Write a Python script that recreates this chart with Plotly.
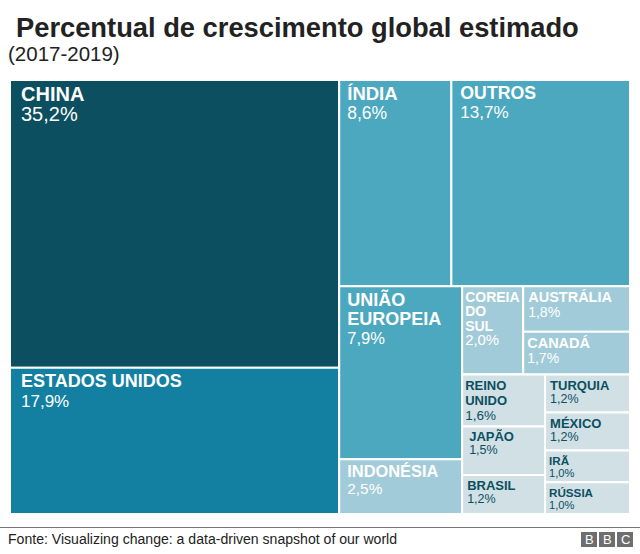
import plotly.graph_objects as go

# leaf tiles, grouped the way the original is nested
ids = ["china", "eua", "india", "outros", "ue", "indonesia", "coreia", "australia", "canada",
       "reino", "japao", "brasil", "turquia", "mexico", "ira", "russia"]
names = ["CHINA", "ESTADOS UNIDOS", "ÍNDIA", "OUTROS", "UNIÃO|EUROPEIA", "INDONÉSIA",
         "COREIA|DO|SUL", "AUSTRÁLIA", "CANADÁ", "REINO|UNIDO", "JAPÃO", "BRASIL",
         "TURQUIA", "MÉXICO", "IRÃ", "RÚSSIA"]
values = [35.2, 17.9, 8.6, 13.7, 7.9, 2.5, 2.0, 1.8, 1.7, 1.6, 1.5, 1.2, 1.2, 1.2, 1.0, 1.0]
parents = ["esq", "esq", "dir_cima", "dir_cima", "col_ue", "col_ue", "bloco_cima", "col_aus", "col_aus",
           "col_reino", "col_reino", "col_reino", "col_tur", "col_tur", "col_tur", "col_tur"]
colors = ["#0c4f60", "#1380a1", "#4ca8bf", "#4ca8bf", "#4ca8bf", "#a2cbd9", "#a2cbd9", "#a2cbd9", "#a2cbd9",
          "#d0e0e5", "#d0e0e5", "#d0e0e5", "#d0e0e5", "#d0e0e5", "#d0e0e5", "#d0e0e5"]
text_colors = ["white"] * 9 + ["#0c4f60"] * 7
name_sizes = [20, 18, 18.5, 17.7, 18, 16.4, 14.5, 14.5, 14.5, 13, 13, 13, 13, 13, 12, 12]
value_sizes = [20, 17, 17.5, 17, 16.5, 15.4, 15.4, 14, 14, 13.5, 12.5, 12.5, 12.5, 12.5, 11.5, 11.5]
line_steps = [20, 20, 19, 19, 19, 17, 15, 15, 15, 15, 13, 13, 13, 13, 12.5, 12.5]
indents = [8, 8, 5, 6, 5, 5, 0, 2, 1, 0, 4, 2, 2, 2, 1, 1]

# invisible groups that force the slice/dice arrangement
group_ids = ["raiz", "esq", "dir", "dir_cima", "dir_baixo", "col_ue", "resto",
             "bloco_cima", "bloco_baixo", "col_reino", "col_tur"]
group_parents = ["", "raiz", "raiz", "dir", "dir", "dir_baixo", "dir_baixo",
                 "resto", "resto", "bloco_baixo", "bloco_baixo"]


def tile_text(name, value, name_size, value_size, indent):
    # font-size spans keep the glyphs big while the base size sets the line step
    pad = ""
    if indent:
        pad = f'<span style="font-size:{indent / 0.556:.1f}px">\u00a0\u00a0</span>'
    rows = [f'{pad}<span style="font-size:{name_size}px"><b>{part}</b></span>' for part in name.split("|")]
    rows.append(f'{pad}<span style="font-size:{value_size}px">{str(value).replace(".", ",")}%</span>')
    return "<br>".join(rows)


labels = [tile_text(*row) for row in zip(names, values, name_sizes, value_sizes, indents)]

# col_aus goes last so it lands to the right of Coreia do Sul
n_groups = len(group_ids)
fig = go.Figure(go.Treemap(
    ids=group_ids + ids + ["col_aus"],
    parents=group_parents + parents + ["bloco_cima"],
    labels=[""] * n_groups + [n.replace("|", " ") for n in names] + [""],
    values=[0] * n_groups + values + [0],
    text=[""] * n_groups + labels + [""],
    textinfo="text",
    branchvalues="remainder",
    sort=False,
    root_color="white",
    pathbar_visible=False,
    tiling=dict(packing="slice-dice", pad=0),
    marker=dict(colors=["white"] * n_groups + colors + ["white"],
                line=dict(color="white", width=2),
                pad=dict(t=0, b=0, l=0, r=0)),
    textposition="top left",
    textfont=dict(family="Liberation Sans", color=["white"] * n_groups + text_colors + ["white"],
                  size=[12] * n_groups + [s / 1.3 for s in line_steps] + [12]),
    hoverinfo="skip",
    domain=dict(x=[10 / 640, 630 / 640], y=[40 / 554, 474 / 554]),
))

fig.update_layout(
    width=640, height=554,
    margin=dict(l=0, r=0, t=0, b=0),
    paper_bgcolor="white",
    font=dict(family="Liberation Sans"),
    showlegend=False,
)

fig.add_annotation(text="<b>Percentual de crescimento global estimado</b>", x=14 / 640, y=1 - 27 / 554,
                   xref="paper", yref="paper", xanchor="left", yanchor="middle", showarrow=False,
                   font=dict(size=27.3, color="#222222"))
fig.add_annotation(text="(2017-2019)", x=6 / 640, y=1 - 53 / 554, xref="paper", yref="paper",
                   xanchor="left", yanchor="middle", showarrow=False, font=dict(size=20.5, color="#222222"))
fig.add_annotation(text="Fonte: Visualizing change: a data-driven snapshot of our world", x=6 / 640,
                   y=1 - 539 / 554, xref="paper", yref="paper", xanchor="left", yanchor="middle",
                   showarrow=False, font=dict(size=14.07, color="#222222"))
fig.add_shape(type="line", xref="paper", yref="paper", x0=0, x1=1, y0=1 - 527.5 / 554, y1=1 - 527.5 / 554,
              line=dict(color="#777777", width=1))

# BBC blocks
for i, letter in enumerate("BBC"):
    left = 581 + i * 18
    fig.add_shape(type="rect", xref="paper", yref="paper", x0=left / 640, x1=(left + 16) / 640,
                  y0=1 - 547 / 554, y1=1 - 532 / 554, fillcolor="#6e6e6e", line_width=0, layer="below")
    fig.add_annotation(text=letter, x=(left + 8) / 640, y=1 - 539.5 / 554, xref="paper", yref="paper",
                       xanchor="center", yanchor="middle", showarrow=False,
                       font=dict(size=13, color="white"))

fig.write_html("out.html", config={"displayModeBar": False},
               post_script="document.body.style.margin = '0';")
